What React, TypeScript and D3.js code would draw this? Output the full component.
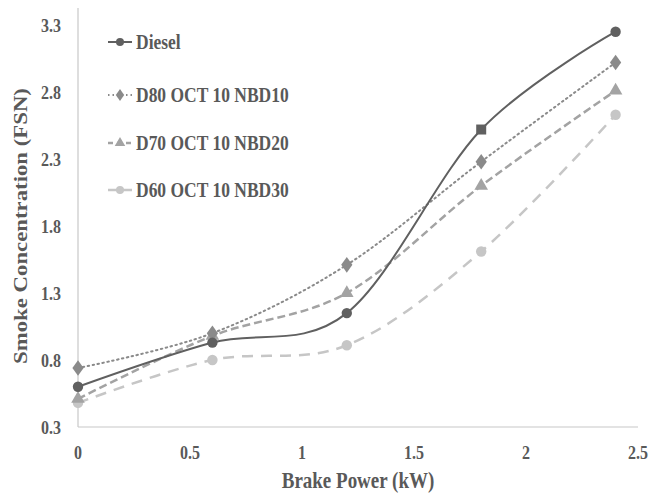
import React from "react";
import * as d3 from "d3";

// brake power (kW)
const power = [0, 0.6, 1.2, 1.8, 2.4];

// smoke concentration (FSN) per fuel
const diesel = [0.6, 0.93, 1.15, 2.52, 3.25];
const d80 = [0.74, 1.0, 1.51, 2.28, 3.02];
const d70 = [0.51, 0.98, 1.3, 2.1, 2.81];
const d60 = [0.48, 0.8, 0.91, 1.61, 2.63];

const seriesNames = ["Diesel", "D80 OCT 10 NBD10", "D70 OCT 10 NBD20", "D60 OCT 10 NBD30"];
// the diesel point at 1.8 kW is drawn with a square in the original
const dieselMarkers = ["circle", "circle", "circle", "square", "circle"];

const xTicks = [0, 0.5, 1, 1.5, 2, 2.5];
const yTicks = [0.3, 0.8, 1.3, 1.8, 2.3, 2.8, 3.3];

const W = 662;
const H = 497;
const FONT = "'Liberation Serif', 'Times New Roman', serif";
const TEXT = "#595959";
const STRETCH = 1.2; // the source picture is stretched vertically

export default function App() {
  const x = d3.scaleLinear().domain([0, 2.5]).range([78, 638]);
  const y = d3.scaleLinear().domain([0.3, 3.3]).range([427, 25]);

  const styles = [
    { values: diesel, color: "#606060", width: 2, dash: "none", marker: "circle" },
    { values: d80, color: "#8a8a8a", width: 2, dash: "1.5 3.5", marker: "diamond" },
    { values: d70, color: "#a3a3a3", width: 2.5, dash: "8 4", marker: "triangle" },
    { values: d60, color: "#c6c6c6", width: 2.5, dash: "11 8", marker: "circle" },
  ];

  const line = d3
    .line<number>()
    .x((_, i) => x(power[i]))
    .y((d) => y(d))
    .curve(d3.curveCatmullRom.alpha(0));

  const symbolPath = (kind: string, size: number) => {
    const type =
      kind === "diamond"
        ? d3.symbolDiamond
        : kind === "triangle"
        ? d3.symbolTriangle
        : kind === "square"
        ? d3.symbolSquare
        : d3.symbolCircle;
    return d3.symbol().type(type).size(size)() as string;
  };
  const sizeOf = (kind: string) =>
    kind === "diamond" ? 70 : kind === "triangle" ? 80 : kind === "square" ? 100 : 85;

  const legendY = [42, 95, 143, 190];

  return (
    <svg width={W} height={H} style={{ position: "absolute", left: 0, top: 0 }} fontFamily={FONT}>
      <rect width={W} height={H} fill="#fff" />

      {/* axes */}
      <line x1={78} x2={78} y1={8} y2={427} stroke="#c8c8c8" strokeWidth={1.2} />
      <line x1={78} x2={638} y1={427} y2={427} stroke="#c8c8c8" strokeWidth={1.2} />

      {yTicks.map((t) => (
        <text
          key={t}
          transform={`translate(61, ${y(t)}) scale(1, ${STRETCH})`}
          dy="0.35em"
          textAnchor="end"
          fontSize={16}
          fontWeight="bold"
          fill={TEXT}
        >
          {d3.format(".1f")(t)}
        </text>
      ))}
      {xTicks.map((t) => (
        <text
          key={t}
          transform={`translate(${x(t)}, 452) scale(1, ${STRETCH})`}
          dy="0.35em"
          textAnchor="middle"
          fontSize={16}
          fontWeight="bold"
          fill={TEXT}
        >
          {t}
        </text>
      ))}

      <text
        transform={`translate(358, 480) scale(1, ${STRETCH})`}
        dy="0.35em"
        textAnchor="middle"
        fontSize={19}
        fontWeight="bold"
        fill={TEXT}
      >
        Brake Power (kW)
      </text>
      <text
        transform={`translate(20, 226) rotate(-90) scale(${STRETCH}, 1)`}
        dy="0.35em"
        textAnchor="middle"
        fontSize={19}
        fontWeight="bold"
        fill={TEXT}
      >
        Smoke Concentration (FSN)
      </text>

      {/* series, drawn back to front */}
      {styles
        .map((s, k) => ({ ...s, k }))
        .reverse()
        .map((s) => (
          <g key={s.k}>
            <path
              d={line(s.values) as string}
              fill="none"
              stroke={s.color}
              strokeWidth={s.width}
              strokeDasharray={s.dash}
              strokeLinecap={s.k === 1 ? "round" : "butt"}
            />
            {s.values.map((v, i) => {
              const kind = s.k === 0 ? dieselMarkers[i] : s.marker;
              return (
                <path
                  key={i}
                  transform={`translate(${x(power[i])},${y(v)})${kind === "diamond" ? " scale(1.25,1)" : ""}`}
                  d={symbolPath(kind, sizeOf(kind))}
                  fill={s.color}
                />
              );
            })}
          </g>
        ))}

      {/* legend */}
      {styles.map((s, k) => (
        <g key={k} transform={`translate(0, ${legendY[k]})`}>
          <line
            x1={108}
            x2={132}
            y1={0}
            y2={0}
            stroke={s.color}
            strokeWidth={s.width}
            strokeDasharray={k === 1 ? "1.5 3" : k === 2 ? "5 4" : "none"}
          />
          <path
            transform={`translate(120,0)${s.marker === "diamond" ? " scale(1.2,1)" : ""}`}
            d={symbolPath(s.marker, sizeOf(s.marker) * 0.6)}
            fill={s.color}
          />
          <text
            transform={`translate(136, 0) scale(1, ${STRETCH})`}
            dy="0.35em"
            fontSize={17.5}
            fontWeight="bold"
            fill={TEXT}
          >
            {seriesNames[k]}
          </text>
        </g>
      ))}
    </svg>
  );
}
